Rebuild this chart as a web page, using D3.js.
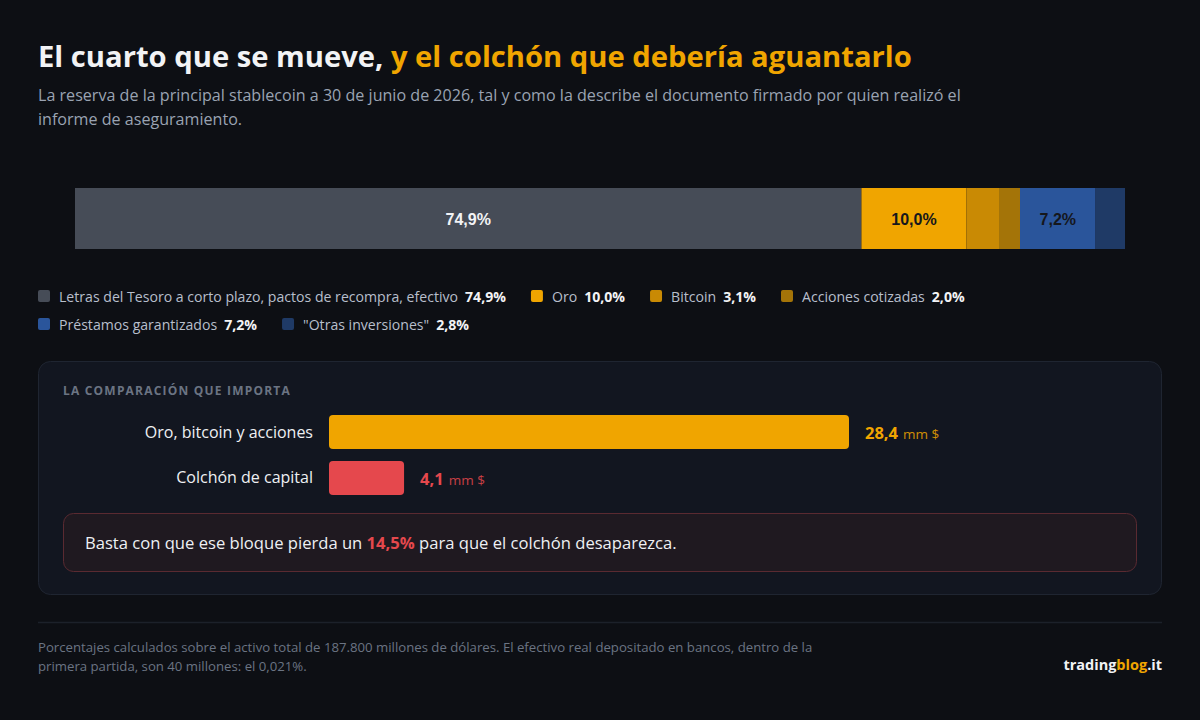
<!DOCTYPE html>
<html><head><meta charset="utf-8">
<script src="https://cdn.jsdelivr.net/npm/d3@7"></script>
<style>
html,body{margin:0;padding:0;background:#0d0f14;}
svg{display:block;}
</style></head>
<body>
<script>
const categories = ["Letras del Tesoro a corto plazo, pactos de recompra, efectivo","Oro","Bitcoin","Acciones cotizadas","Préstamos garantizados","\"Otras inversiones\""];
const shares = [74.9, 10.0, 3.1, 2.0, 7.2, 2.8];
const segColors = ["#464c57","#f0a500","#c98a04","#a47408","#2a559b","#1f3a66"];
const segLabels = ["74,9%","10,0%","","","7,2%",""];
const legendLabels = ["74,9%","10,0%","3,1%","2,0%","7,2%","2,8%"];
const compCats = ["Oro, bitcoin y acciones","Colchón de capital"];
const compValues = [28.4, 4.1];
const compLabels = ["28,4","4,1"];
const compColors = ["#f0a500","#e5484d"];

const W=1200,H=720;
const font="'Open Sans', 'Noto Sans', sans-serif";
const svg=d3.select("body").append("svg").attr("width",W).attr("height",H).style("font-family",font);
svg.append("rect").attr("width",W).attr("height",H).attr("fill","#0d0f14");

// Title
const t=svg.append("text").attr("x",38).attr("y",67).attr("font-size",29.2).attr("font-weight",700);
t.append("tspan").attr("fill","#f2f3f5").text("El cuarto que se mueve, ");
t.append("tspan").attr("fill","#f0a500").text("y el colchón que debería aguantarlo");
svg.append("text").attr("x",38).attr("y",101).attr("font-size",16.1).attr("fill","#9aa3b2").text("La reserva de la principal stablecoin a 30 de junio de 2026, tal y como la describe el documento firmado por quien realizó el");
svg.append("text").attr("x",38).attr("y",125).attr("font-size",16.1).attr("fill","#9aa3b2").text("informe de aseguramiento.");

// Stacked bar
const x=d3.scaleLinear().domain([0,d3.sum(shares)]).range([75,1125]);
let cum=0;
const segs=shares.map((v,i)=>{const s={i,v,x0:cum,x1:cum+v};cum+=v;return s;});
const g=svg.append("g");
g.selectAll("rect").data(segs).join("rect")
 .attr("x",d=>x(d.x0)).attr("width",d=>x(d.x1)-x(d.x0))
 .attr("y",188).attr("height",61).attr("fill",d=>segColors[d.i]);
g.selectAll("text").data(segs.filter(d=>segLabels[d.i])).join("text")
 .attr("x",d=>(x(d.x0)+x(d.x1))/2).attr("y",225).attr("text-anchor","middle")
 .attr("font-family","'Liberation Sans', Arial, sans-serif").attr("font-weight",700).attr("font-size",16)
 .attr("fill",d=>d.i===0?"#f2f3f5":"#15171c").text(d=>segLabels[d.i]);

// Legend
const leg=svg.append("g").attr("font-size",14.1);
let lx=38, ly=297;
categories.forEach((c,i)=>{
  if(i===4){lx=38;ly=325;}
  const it=leg.append("g");
  it.append("rect").attr("x",lx).attr("y",ly-7).attr("width",12).attr("height",12).attr("rx",2).attr("fill",segColors[i]);
  const tx=it.append("text").attr("x",lx+21).attr("y",ly+5);
  tx.append("tspan").attr("fill","#b8bfcc").text(c);
  tx.append("tspan").attr("fill","#f2f3f5").attr("font-weight",700).attr("dx",7).text(legendLabels[i]);
  lx += tx.node().getComputedTextLength()+7+21+25;
});

// Panel
svg.append("rect").attr("x",38.5).attr("y",361.5).attr("width",1123).attr("height",233).attr("rx",12)
 .attr("fill","#121620").attr("stroke","#1f2531");
svg.append("text").attr("x",63).attr("y",395).attr("font-size",12).attr("font-weight",700).attr("letter-spacing",1.2)
 .attr("fill","#6b7483").text("LA COMPARACIÓN QUE IMPORTA");

const cx=d3.scaleLinear().domain([0,28.4]).range([329,849]);
const cy=d3.scaleBand().domain(compCats).range([415,495]).paddingInner(0.26).paddingOuter(0);
const cg=svg.append("g");
compCats.forEach((c,i)=>{
  const y=cy(c), h=cy.bandwidth();
  cg.append("rect").attr("x",cx(0)).attr("y",y).attr("width",cx(compValues[i])-cx(0)).attr("height",h).attr("rx",4).attr("fill",compColors[i]);
  cg.append("text").attr("x",313).attr("y",y+h/2+5.5).attr("text-anchor","end").attr("font-size",16).attr("fill","#eef0f3").text(c);
  const vt=cg.append("text").attr("x",cx(compValues[i])+16).attr("y",y+h/2+7).attr("fill",compColors[i]);
  vt.append("tspan").attr("font-size",16.5).attr("font-weight",700).text(compLabels[i]);
  vt.append("tspan").attr("font-size",13.5).attr("dx",5).attr("opacity",0.85).text("mm $");
});

// Callout
svg.append("rect").attr("x",63.5).attr("y",513.5).attr("width",1073).attr("height",58).attr("rx",10)
 .attr("fill","#1f1920").attr("stroke","#5a2a31");
const ct=svg.append("text").attr("x",85).attr("y",549).attr("font-size",16.6).attr("fill","#eef0f3");
ct.append("tspan").text("Basta con que ese bloque pierda un ");
ct.append("tspan").attr("fill","#e5484d").attr("font-weight",700).text("14,5%");
ct.append("tspan").text(" para que el colchón desaparezca.");

// Footer
svg.append("line").attr("x1",38).attr("x2",1162).attr("y1",622.5).attr("y2",622.5).attr("stroke","#1c212a").attr("stroke-width",1.5);
svg.append("text").attr("x",38).attr("y",652).attr("font-size",13.2).attr("fill","#6b7483").text("Porcentajes calculados sobre el activo total de 187.800 millones de dólares. El efectivo real depositado en bancos, dentro de la");
svg.append("text").attr("x",38).attr("y",671).attr("font-size",13.2).attr("fill","#6b7483").text("primera partida, son 40 millones: el 0,021%.");
const br=svg.append("text").attr("x",1162).attr("y",670).attr("text-anchor","end").attr("font-size",14.5).attr("font-weight",700);
br.append("tspan").attr("fill","#f2f3f5").text("trading");
br.append("tspan").attr("fill","#f0a500").text("blog");
br.append("tspan").attr("fill","#f2f3f5").text(".it");
</script>
</body></html>
